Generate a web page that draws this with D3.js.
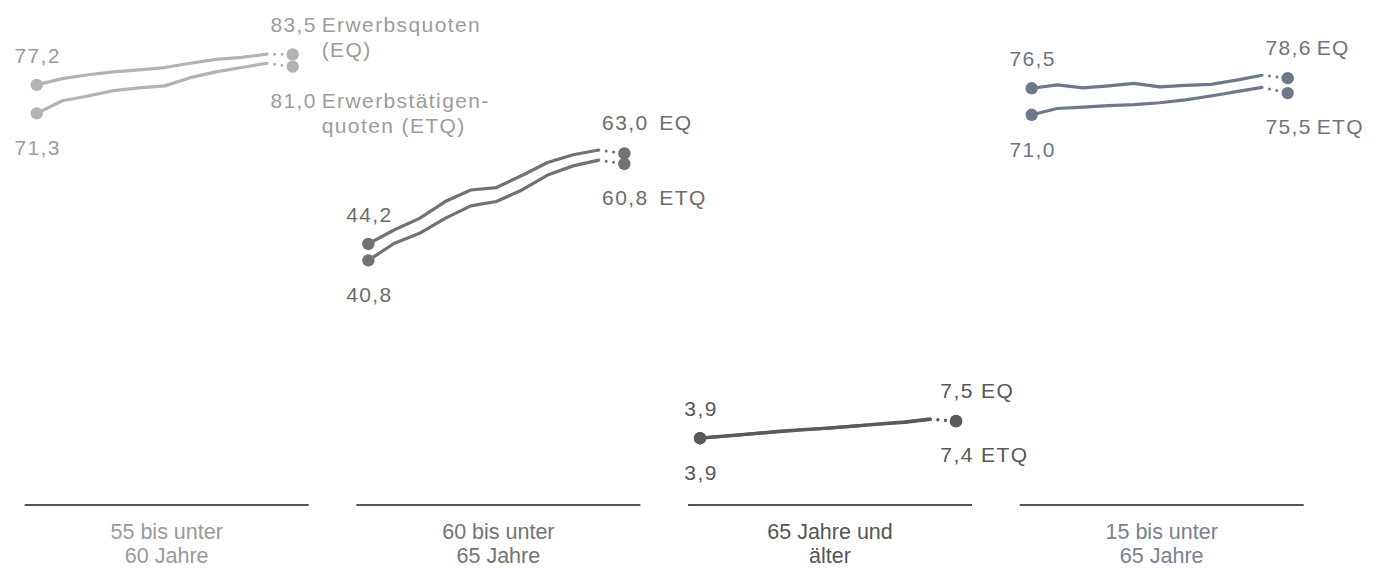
<!DOCTYPE html>
<html lang="de">
<head>
<meta charset="utf-8">
<script src="https://cdn.jsdelivr.net/npm/d3@7/dist/d3.min.js"></script>
<style>
  html, body { margin: 0; padding: 0; background: #ffffff; }
  svg { display: block; font-family: "Liberation Sans", Arial, sans-serif; }
</style>
</head>
<body>
<svg id="chart" width="1381" height="568"></svg>
<script>
// Jahre je Altersgruppe; das letzte Jahr ist durch einen Zeitreihenbruch abgesetzt
const years = [2010, 2011, 2012, 2013, 2014, 2015, 2016, 2017, 2018, 2019, 2020];

// Altersgruppen (zweizeilige Beschriftung)
const groupLabels = [
  ["55 bis unter", "60 Jahre"],
  ["60 bis unter", "65 Jahre"],
  ["65 Jahre und", "älter"],
  ["15 bis unter", "65 Jahre"]
];

// Erwerbsquoten (EQ) in %
const eq55 = [77.2, 78.5, 79.3, 79.9, 80.3, 80.8, 81.7, 82.5, 82.9, 83.6, 83.5];
const eq60 = [44.2, 47.1, 49.5, 53.0, 55.4, 55.9, 58.4, 61.1, 62.7, 63.7, 63.0];
const eq65 = [3.9, 4.4, 4.8, 5.3, 5.7, 6.0, 6.4, 6.9, 7.3, 7.9, 7.5];
const eq15 = [76.5, 77.2, 76.6, 77.0, 77.5, 76.8, 77.1, 77.3, 78.2, 79.2, 78.6];

// Erwerbstätigenquoten (ETQ) in %
const etq55 = [71.3, 73.9, 74.9, 76.0, 76.6, 77.0, 78.7, 79.9, 80.8, 81.7, 81.0];
const etq60 = [40.8, 44.3, 46.4, 49.5, 52.1, 53.0, 55.4, 58.5, 60.4, 61.6, 60.8];
const etq65 = [3.9, 4.3, 4.8, 5.2, 5.6, 6.0, 6.4, 6.8, 7.2, 7.8, 7.4];
const etq15 = [71.0, 72.3, 72.6, 72.9, 73.1, 73.5, 74.1, 74.9, 75.8, 76.7, 75.5];

// Bezeichnungen rechts neben den Endwerten
const eqNames  = [["Erwerbsquoten", "(EQ)"], ["EQ"], ["EQ"], ["EQ"]];
const etqNames = [["Erwerbstätigen-", "quoten (ETQ)"], ["ETQ"], ["ETQ"], ["ETQ"]];

const eqSeries  = [eq55, eq60, eq65, eq15];
const etqSeries = [etq55, etq60, etq65, etq15];

// Gestaltung je Gruppe
const lineColors  = ["#b3b3b3", "#727272", "#5a5a5a", "#6f788a"];
const textColors  = ["#9c9c9c", "#6c6c6c", "#585858", "#6c7486"];
const groupColors = ["#9a9a9a", "#747474", "#555555", "#7a8191"];
const nameDx      = [29, 35, 25, 29];

const fmt = v => d3.format(".1f")(v).replace(".", ",");

const svg = d3.select("#chart");

// Lage der Gruppen und gemeinsame Werteachse
const groupX = d3.scaleLinear().domain([0, groupLabels.length - 1]).range([36.7, 1031.7]);
const x = d3.scaleLinear().domain([years[0], years[years.length - 1]]).range([0, 256]);
const y = d3.scaleLinear().domain([0, 90]).range([457, 457 - 90 * 4.82]);

const line = d3.line().x(d => x(d.year)).y(d => y(d.value)).curve(d3.curveLinear);

groupLabels.forEach((lbl, i) => {
  const g = svg.append("g").attr("transform", `translate(${groupX(i)},0)`);
  const col = lineColors[i];
  const tcol = textColors[i];
  const n = years.length;

  [etqSeries[i], eqSeries[i]].forEach(vals => {
    const pts = vals.map((v, k) => ({ year: years[k], value: v }));
    // durchgehende Linie bis vor den Zeitreihenbruch
    g.append("path")
      .datum(pts.slice(0, n - 1))
      .attr("d", line)
      .attr("fill", "none")
      .attr("stroke", col)
      .attr("stroke-width", 3.2)
      .attr("stroke-linejoin", "round")
      .attr("stroke-linecap", "butt");
    // gepunktete Verbindung zum letzten Jahr
    g.append("path")
      .datum(pts.slice(n - 2))
      .attr("d", line)
      .attr("fill", "none")
      .attr("stroke", col)
      .attr("stroke-width", 3)
      .attr("stroke-linecap", "round")
      .attr("stroke-dasharray", "0 7.5");
    // Start- und Endpunkt
    g.selectAll(null)
      .data([pts[0], pts[n - 1]])
      .enter().append("circle")
      .attr("cx", d => x(d.year))
      .attr("cy", d => y(d.value))
      .attr("r", 6.2)
      .attr("fill", col);
  });

  const eq = eqSeries[i], etq = etqSeries[i];
  const x0 = x(years[0]), x1 = x(years[n - 1]);

  const valText = (tx, ty, txt, anchor) => g.append("text")
    .attr("x", tx).attr("y", ty)
    .attr("text-anchor", anchor)
    .attr("fill", tcol)
    .style("font-size", "21px")
    .style("letter-spacing", "1.4px")
    .text(txt);

  // Startwerte
  valText(x0 + 1, y(eq[0]) - 22, fmt(eq[0]), "middle");
  valText(x0 + 1, y(etq[0]) + 42, fmt(etq[0]), "middle");

  // Endwerte
  const eqY = y(eq[n - 1]) - 23;
  const etqY = y(etq[n - 1]) + 41;
  valText(x1 + 1, eqY, fmt(eq[n - 1]), "middle");
  valText(x1 + 1, etqY, fmt(etq[n - 1]), "middle");

  // Reihenbezeichnungen
  eqNames[i].forEach((t, k) => valText(x1 + nameDx[i], eqY + k * 25, t, "start"));
  etqNames[i].forEach((t, k) => valText(x1 + nameDx[i], etqY + k * 25, t, "start"));

  // Grundlinie und Gruppenbeschriftung
  g.append("line")
    .attr("x1", -12).attr("x2", 272)
    .attr("y1", 505).attr("y2", 505)
    .attr("stroke", "#555555")
    .attr("stroke-width", 2.2);

  const cx = 130;
  const t = g.append("text")
    .attr("text-anchor", "middle")
    .attr("fill", groupColors[i])
    .style("font-size", "21.5px");
  lbl.forEach((s, k) => t.append("tspan").attr("x", cx).attr("y", 539 + k * 24).text(s));
});
</script>
</body>
</html>
